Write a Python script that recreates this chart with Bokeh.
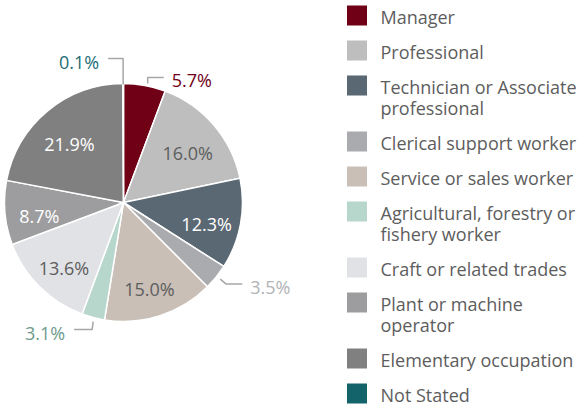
import math
from bokeh.plotting import figure
from bokeh.models import Range1d
from bokeh.core.properties import value
from bokeh.embed import file_html
from bokeh.resources import INLINE

# ---- data ----
categories = ["Manager", "Professional", "Technician or Associate\nprofessional",
              "Clerical support worker", "Service or sales worker",
              "Agricultural, forestry or\nfishery worker", "Craft or related trades",
              "Plant or machine\noperator", "Elementary occupation", "Not Stated"]
values = [5.7, 16.0, 12.3, 3.5, 15.0, 3.1, 13.6, 8.7, 21.9, 0.1]
colors = ["#6f0016", "#bebebe", "#5a6873", "#a9abae", "#c9bfb6",
          "#b7d6cc", "#e1e2e6", "#9d9d9f", "#808080", "#13636a"]
label_texts = ["5.7%", "16.0%", "12.3%", "3.5%", "15.0%", "3.1%", "13.6%", "8.7%", "21.9%", "0.1%"]

# ---- layout / style ----
W, H = 584, 406
CX, CY, R = 123, 202, 119
FONT = value("Open Sans")
TEXT_GRAY = "#5d5d5d"
inside_colors = {1: TEXT_GRAY, 2: "white", 4: TEXT_GRAY, 6: TEXT_GRAY, 7: "white", 8: "white"}
# outside labels: index -> (start offset, elbow offset from start, end offset from elbow, text color, align)
outside = {
    0: ((3, -2), (0, -6), (16, 0), "#6f0016", "left"),
    3: ((4, 2), (6, 5), (16, 0), "#b1b3b6", "left"),
    5: ((0, 4), (-1, 8), (-18, 0), "#6e9a8e", "right"),
    9: ((0, 1), (0, -26), (-15, 0), "#1d6d74", "right"),
}

def Y(v):
    return H - v

p = figure(width=W, height=H, output_backend="svg", toolbar_location=None,
           x_range=Range1d(0, W), y_range=Range1d(0, H), min_border=0)
p.axis.visible = False
p.grid.visible = False
p.outline_line_color = None
p.background_fill_color = "white"

total = sum(values)
starts, ends, mids = [], [], []
acc = 0.0
for v in values:
    s = acc / total * 2 * math.pi
    acc += v
    e = acc / total * 2 * math.pi
    starts.append(math.pi / 2 - s)
    ends.append(math.pi / 2 - e)
    mids.append((s + e) / 2)

p.wedge(x=[CX] * len(values), y=[Y(CY)] * len(values), radius=R,
        start_angle=starts, end_angle=ends, direction="clock",
        fill_color=colors, line_color="white", line_width=1.5)

# inside labels
for i, col in inside_colors.items():
    a = mids[i]
    d = 0.71 * R
    x = CX + d * math.sin(a)
    y = CY - d * math.cos(a) + 6
    p.text(x=[x], y=[Y(y)], text=[label_texts[i]], text_font=FONT, text_font_size="18px",
           text_color=col, text_align="center", text_baseline="middle")

# outside labels with leader lines
for i, (so, eo, fo, col, align) in outside.items():
    a = mids[i]
    x0 = CX + R * math.sin(a) + so[0]
    y0 = CY - R * math.cos(a) + so[1]
    x1, y1 = x0 + eo[0], y0 + eo[1]
    x2, y2 = x1 + fo[0], y1 + fo[1]
    p.line(x=[x0, x1, x2], y=[Y(y0), Y(y1), Y(y2)], line_color="#a6a6a6", line_width=1.5)
    tx = x2 + (8 if align == "left" else -9)
    p.text(x=[tx], y=[Y(y2 + 3)], text=[label_texts[i]], text_font=FONT, text_font_size="18px",
           text_color=col, text_align=align, text_baseline="middle")

# legend
extra = 0
for i, (cat, col) in enumerate(zip(categories, colors)):
    top = 5 + 35 * i + 21 * extra
    p.rect(x=[356.5], y=[Y(top + 10)], width=20, height=20, fill_color=col, line_color=None)
    lines = cat.split("\n")
    for k, ln in enumerate(lines):
        p.text(x=[380], y=[Y(top + 11 + 21.5 * k)], text=[ln], text_font=FONT,
               text_font_size="18px", text_color=TEXT_GRAY, text_align="left",
               text_baseline="middle")
    extra += len(lines) - 1

open("out.html", "w").write(file_html(p, INLINE))
